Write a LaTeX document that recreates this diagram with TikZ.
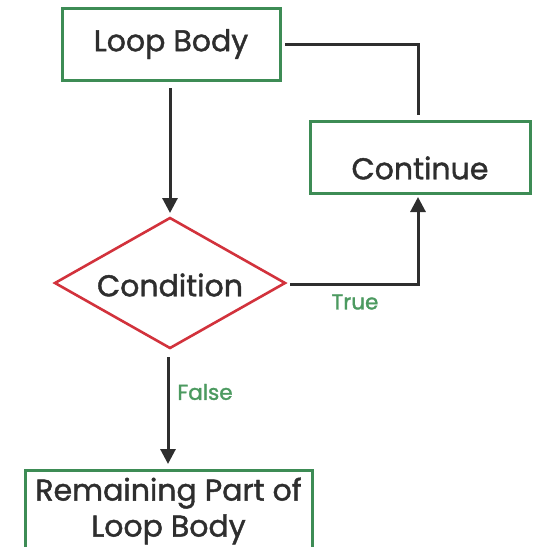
\documentclass[tikz,border=0pt]{standalone}
\usepackage{fontspec}
\setmainfont{Poppins}
\newfontfamily\medfont{Poppins}[FakeBold=1.4]
\usetikzlibrary{shapes.geometric,arrows.meta}
\definecolor{boxgreen}{HTML}{3D8C55}
\definecolor{diared}{HTML}{D2323C}
\definecolor{ink}{HTML}{2E2E2E}
\definecolor{lblgreen}{HTML}{4C9A60}
\tikzset{
  stepbox/.style={draw=boxgreen, line width=3pt, fill=white, inner sep=0pt},
  decision/.style={draw=diared, line width=2.6pt, fill=white},
  txt/.style={text=ink, font=\medfont\fontsize{30}{36}\selectfont, inner sep=0pt},
  lbl/.style={text=lblgreen, font=\medfont\fontsize{21.5}{24}\selectfont, inner sep=0pt},
  link/.style={draw=ink, line width=3pt},
  arr/.style={link, -{Triangle[length=15pt,width=15pt]}}
}
\begin{document}
\begin{tikzpicture}[x=1pt,y=-1pt]
\useasboundingbox (0,0) rectangle (533,547);
% boxes
\node[stepbox, minimum width=218pt, minimum height=72pt] (body) at (171,44) {};
\node[txt] (bodyt) at (171,44) {Loop Body};
\node[stepbox, minimum width=220pt, minimum height=72pt] (cont) at (420,157) {};
\node[txt] (contt) at (420,168) {Continue};
% decision diamond
\coordinate (dtop) at (170,218);
\coordinate (dright) at (285,283);
\coordinate (dbot) at (170,348);
\coordinate (dleft) at (55,283);
\draw[decision] (dtop) -- (dright) -- (dbot) -- (dleft) -- cycle;
\node[txt] (cond) at (170,285) {Condition};
\node[stepbox, minimum width=287pt, minimum height=100pt] (rest) at (168.5,520) {};
\node[txt, align=center] (restt) at (168.5,511) {Remaining Part of\\Loop Body};
% connectors
\coordinate (bodyout) at (285,44);
\coordinate (upper) at (418,44);
\coordinate (conttop) at (418,115);
\draw[link] (bodyout) -- (upper) -- (conttop);
\coordinate (b1) at (170,88);
\coordinate (b2) at (170,213);
\draw[arr] (b1) -- (b2);
\coordinate (c1) at (290,284);
\coordinate (c2) at (418,284);
\coordinate (c3) at (418,197);
\draw[arr] (c1) -- (c2) -- (c3);
\coordinate (f1) at (168,357);
\coordinate (f2) at (168,464);
\draw[arr] (f1) -- (f2);
% labels
\node[lbl] (truel) at (355,302) {True};
\node[lbl] (falsel) at (205,392) {False};
\end{tikzpicture}
\end{document}
